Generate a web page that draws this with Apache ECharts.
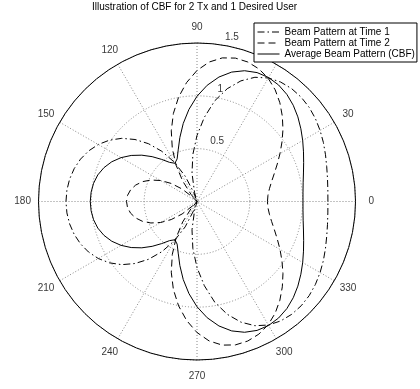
<!DOCTYPE html>
<html><head><meta charset="utf-8">
<script src="https://cdn.jsdelivr.net/npm/echarts@6/dist/echarts.min.js"></script>
<style>html,body{margin:0;padding:0;background:#fff}#c{width:420px;height:389px}</style>
</head><body><div id="c"></div>
<script>
const chartTitle = 'Illustration of CBF for 2 Tx and 1 Desired User';
const seriesNames = ['Beam Pattern at Time 1', 'Beam Pattern at Time 2', 'Average Beam Pattern (CBF)'];
const angleTicks = [0, 30, 60, 90, 120, 150, 180, 210, 240, 270, 300, 330];
const radiusTicks = [0.5, 1, 1.5];

const time1Angles = [0,5,10,15,20,25,30,35,40,45,50,55,60,65,70,75,80,85,90,95,100,105,107.5,110,115,120,125,130,135,140,145,150,155,160,165,170,175,180,185,190,195,200,205,210,215,220,225,230,235,240,245,250,252.5,255,260,265,270,275,280,285,290,295,300,305,310,315,320,325,330,335,340,345,350,355,360];
const time1R = [1.239,1.243,1.254,1.271,1.294,1.320,1.345,1.368,1.386,1.395,1.394,1.380,1.350,1.297,1.215,1.105,0.968,0.800,0.625,0.448,0.272,0.090,0,0.090,0.265,0.430,0.580,0.714,0.830,0.930,1.012,1.079,1.132,1.173,1.203,1.224,1.236,1.240,1.236,1.224,1.203,1.173,1.132,1.079,1.012,0.930,0.830,0.714,0.580,0.430,0.265,0.090,0,0.090,0.272,0.448,0.625,0.800,0.968,1.105,1.215,1.297,1.350,1.380,1.394,1.395,1.386,1.368,1.345,1.320,1.294,1.271,1.254,1.243,1.239];

const time2Angles = [0,5,10,15,20,25,30,35,40,45,50,55,60,65,70,75,80,85,90,95,100,105,110,115,120,125,130,133,135,140,145,150,155,160,165,170,175,180,185,190,195,200,205,210,215,220,225,227,230,235,240,245,250,255,260,265,270,275,280,285,290,295,300,305,310,315,320,325,330,335,340,345,350,355,360];
const time2R = [0.667,0.674,0.696,0.731,0.779,0.838,0.907,0.982,1.062,1.142,1.220,1.290,1.347,1.385,1.405,1.405,1.380,1.325,1.240,1.130,1.003,0.863,0.712,0.553,0.394,0.236,0.086,0,0.056,0.184,0.298,0.397,0.481,0.549,0.601,0.638,0.660,0.667,0.660,0.638,0.601,0.549,0.481,0.397,0.298,0.184,0.056,0,0.086,0.236,0.394,0.553,0.712,0.863,1.003,1.130,1.240,1.325,1.380,1.405,1.405,1.385,1.347,1.290,1.220,1.142,1.062,0.982,0.907,0.838,0.779,0.731,0.696,0.674,0.667];

const avgAngles = [0,5,10,15,20,25,30,35,40,45,50,55,60,65,70,75,80,85,90,95,100,105,110,115,120,125,130,135,140,145,150,155,160,165,170,175,180,185,190,195,200,205,210,215,220,225,230,235,240,245,250,255,260,265,270,275,280,285,290,295,300,305,310,315,320,325,330,335,340,345,350,355,360];
const avgR = [1.003,1.007,1.020,1.043,1.074,1.112,1.155,1.200,1.246,1.288,1.323,1.346,1.355,1.346,1.317,1.268,1.196,1.104,0.996,0.875,0.750,0.627,0.520,0.445,0.418,0.452,0.520,0.600,0.682,0.760,0.830,0.890,0.937,0.972,0.994,1.006,1.010,1.006,0.994,0.972,0.937,0.890,0.830,0.760,0.682,0.600,0.520,0.452,0.418,0.445,0.520,0.627,0.750,0.875,0.996,1.104,1.196,1.268,1.317,1.346,1.355,1.346,1.323,1.288,1.246,1.200,1.155,1.112,1.074,1.043,1.020,1.007,1.003];

const font = 'Liberation Sans, Arial, Helvetica, sans-serif';
const rMax = radiusTicks[radiusTicks.length - 1];
const rInc = radiusTicks[0];
const pair = (angles, rs) => angles.map((a, i) => [rs[i], a]);

const chart = echarts.init(document.getElementById('c'), null, {renderer: 'canvas', width: 420, height: 389});
const lineSeries = (name, angles, rs, type) => ({
  name, type: 'line', coordinateSystem: 'polar', data: pair(angles, rs),
  showSymbol: false, symbol: 'none', smooth: false, silent: true, z: 3,
  itemStyle: {color: '#000'},
  lineStyle: {color: '#000', width: 1, type}
});

chart.setOption({
  animation: false,
  backgroundColor: '#fff',
  textStyle: {fontFamily: font},
  title: {text: chartTitle, left: 92, top: 2, padding: 0,
    textStyle: {fontSize: 10, fontWeight: 'normal', color: '#000', fontFamily: font}},
  legend: {data: seriesNames, orient: 'vertical', left: 254, top: 23, padding: [4, 2, 3, 3],
    itemGap: 1, itemWidth: 22, itemHeight: 10, backgroundColor: '#fff', borderColor: '#000',
    borderWidth: 1, borderRadius: 0, selectedMode: false, z: 10,
    itemStyle: {opacity: 0},
    lineStyle: {width: 1},
    textStyle: {fontSize: 10, color: '#000', fontFamily: font}},
  polar: {center: [197, 201.5], radius: 158.5},
  angleAxis: {type: 'value', min: 0, max: 360, interval: 30, startAngle: 0, clockwise: false,
    axisLine: {lineStyle: {color: '#000', width: 1}}, axisTick: {show: false}, axisLabel: {show: false},
    splitLine: {lineStyle: {color: '#888', type: [1, 2], width: 1}}},
  radiusAxis: {type: 'value', min: 0, max: rMax, interval: rInc,
    axisLine: {show: false}, axisTick: {show: false}, axisLabel: {show: false},
    splitLine: {lineStyle: {color: '#888', type: [1, 2], width: 1}}},
  series: [
    lineSeries(seriesNames[0], time1Angles, time1R, [7, 3, 1.5, 3]),
    lineSeries(seriesNames[1], time2Angles, time2R, [7, 4]),
    lineSeries(seriesNames[2], avgAngles, avgR, 'solid'),
    {type: 'scatter', coordinateSystem: 'polar', silent: true, clip: false, symbolSize: 1,
      itemStyle: {color: 'rgba(0,0,0,0)'}, z: 4,
      data: angleTicks.map(a => [rMax * 1.1, a]),
      label: {show: true, position: 'inside', formatter: p => String(p.value[1]),
        fontSize: 10, color: '#000', fontFamily: font}},
    {type: 'scatter', coordinateSystem: 'polar', silent: true, clip: false, symbolSize: 1,
      itemStyle: {color: 'rgba(0,0,0,0)'}, z: 4,
      data: radiusTicks.map(t => ({value: [t + rInc / 20, 82], name: String(t)})),
      label: {show: true, position: 'inside', align: 'left', verticalAlign: 'bottom', offset: [5.5, 0],
        formatter: '{b}', fontSize: 10, color: '#000', fontFamily: font}}
  ]
});
</script>
</body></html>
